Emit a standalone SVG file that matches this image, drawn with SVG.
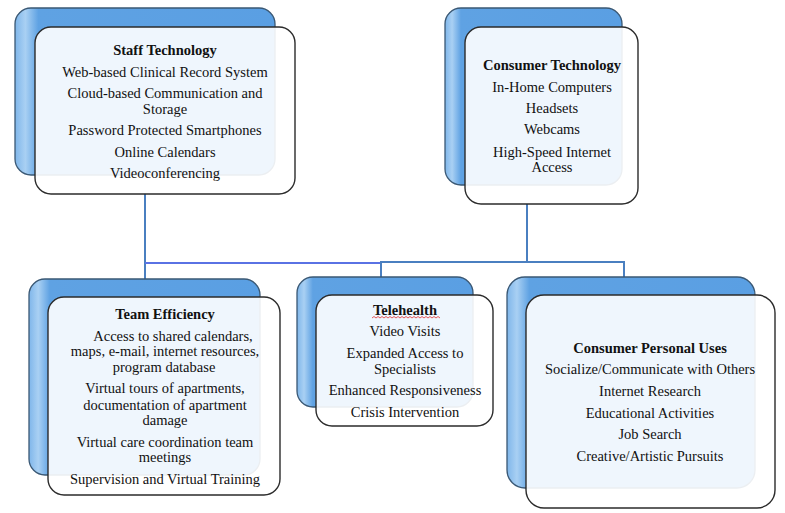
<svg xmlns="http://www.w3.org/2000/svg" width="785" height="513" viewBox="0 0 785 513">
<defs>
<linearGradient id="blueG" x1="0" y1="0" x2="1" y2="0">
<stop offset="0" stop-color="#7fb6ea"/>
<stop offset="0.04" stop-color="#a9d0f3"/>
<stop offset="0.09" stop-color="#5fa2e3"/>
<stop offset="1" stop-color="#5a9fe3"/>
</linearGradient>
<style>
.back{fill:url(#blueG);stroke:#3a5874;stroke-width:1.3}
.front{fill:#ffffff;fill-opacity:0.9;stroke:#2b2b2b;stroke-width:1.4}
text{font-family:"Liberation Serif","Times New Roman",serif;font-size:14.5px;fill:#111;text-anchor:middle}
.t{font-weight:bold}
.c{fill:none;stroke:#4a7fc0;stroke-width:2}
</style>
</defs>
<rect width="785" height="513" fill="#ffffff"/>
<g id="connectors">
<line class="c" x1="145" y1="193" x2="145" y2="279"/>
<line class="c" x1="145" y1="263" x2="382" y2="263" style="stroke:#5a72e4"/>
<polyline class="c" points="381,277 381,262 624,262 624,277"/>
<line class="c" x1="527" y1="204" x2="527" y2="262"/>
</g>
<g id="staff-technology">
<rect class="back" x="15" y="8" width="260" height="167" rx="16"/>
<rect class="front" x="35" y="27" width="260" height="167" rx="16"/>
<text class="t" x="165" y="55">Staff Technology</text>
<text x="165" y="77">Web-based Clinical Record System</text>
<text x="165" y="98">Cloud-based Communication and</text>
<text x="165" y="114">Storage</text>
<text x="165" y="135">Password Protected Smartphones</text>
<text x="165" y="157">Online Calendars</text>
<text x="165" y="178">Videoconferencing</text>
</g>
<g id="consumer-technology">
<rect class="back" x="445" y="8" width="177" height="177" rx="16"/>
<rect class="front" x="465" y="27" width="173" height="177" rx="16"/>
<text class="t" x="552" y="70">Consumer Technology</text>
<text x="552" y="92">In-Home Computers</text>
<text x="552" y="113">Headsets</text>
<text x="552" y="134">Webcams</text>
<text x="552" y="157">High-Speed Internet</text>
<text x="552" y="172">Access</text>
</g>
<g id="team-efficiency">
<rect class="back" x="29" y="279" width="231" height="196" rx="16"/>
<rect class="front" x="48" y="297" width="232" height="198" rx="16"/>
<text class="t" x="165" y="319">Team Efficiency</text>
<text x="173" y="341">Access to shared calendars,</text>
<text x="165" y="356">maps, e-mail, internet resources,</text>
<text x="164" y="372">program database</text>
<text x="165" y="393">Virtual tours of apartments,</text>
<text x="165" y="410">documentation of apartment</text>
<text x="165" y="425">damage</text>
<text x="165" y="447">Virtual care coordination team</text>
<text x="165" y="462">meetings</text>
<text x="165" y="484">Supervision and Virtual Training</text>
</g>
<g id="telehealth">
<rect class="back" x="297" y="277" width="176" height="130" rx="16"/>
<rect class="front" x="316" y="295" width="177" height="131" rx="16"/>
<text class="t" x="405" y="315">Telehealth</text>
<path d="M372,318 l2,-1.5 l2,1.5 l2,-1.5 l2,1.5 l2,-1.5 l2,1.5 l2,-1.5 l2,1.5 l2,-1.5 l2,1.5 l2,-1.5 l2,1.5 l2,-1.5 l2,1.5 l2,-1.5 l2,1.5 l2,-1.5 l2,1.5 l2,-1.5 l2,1.5 l2,-1.5 l2,1.5 l2,-1.5 l2,1.5 l2,-1.5 l2,1.5 l2,-1.5 l2,1.5 l2,-1.5 l2,1.5 l2,-1.5 l2,1.5 l2,-1.5 l2,1.5" fill="none" stroke="#e03030" stroke-width="0.8"/>
<text x="405" y="336">Video Visits</text>
<text x="405" y="358">Expanded Access to</text>
<text x="405" y="374">Specialists</text>
<text x="405" y="395">Enhanced Responsiveness</text>
<text x="405" y="417">Crisis Intervention</text>
</g>
<g id="consumer-personal-uses">
<rect class="back" x="507" y="277" width="248" height="211" rx="18"/>
<rect class="front" x="526" y="295" width="249" height="213" rx="18"/>
<text class="t" x="650" y="353">Consumer Personal Uses</text>
<text x="650" y="374">Socialize/Communicate with Others</text>
<text x="650" y="396">Internet Research</text>
<text x="650" y="418">Educational Activities</text>
<text x="650" y="439">Job Search</text>
<text x="650" y="461">Creative/Artistic Pursuits</text>
</g>
</svg>
